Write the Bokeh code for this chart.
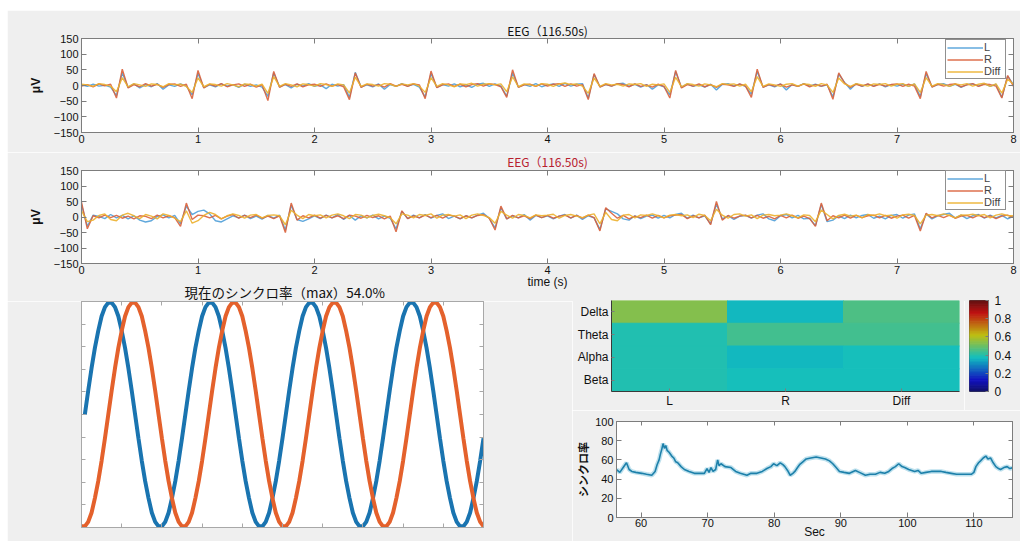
import numpy as np
from bokeh.plotting import figure
from bokeh.layouts import row, column
from bokeh.models import (Range1d, FixedTicker, LinearAxis, Legend, LegendItem, Title, Spacer,
                          FactorRange, ColumnDataSource, LinearColorMapper)
from bokeh.transform import transform
from bokeh.embed import file_html
from bokeh.resources import INLINE

NaN = float("nan")

# ---------------- data ----------------
eeg_title = "EEG（116.50s)"
eeg_ticks_x = [0, 1, 2, 3, 4, 5, 6, 7, 8]
eeg_ticks_y = [-150, -100, -50, 0, 50, 100, 150]
channel_names = ["L", "R", "Diff"]

# panel 1 (uV), sampled every 0.05 s over 0..8 s
L1 = [2, -3, 4, -2, 1, -5, -32, 40, -6, 5, -8, 3, -4, 6, -12, 2, -3, 5, -2, -30,
      38, -7, 2, -4, 5, -2, 3, -6, 4, -3, 2, -5, -35, 40, -4, 3, -8, 4, -2, 6,
      -3, 2, -10, 4, -2, 3, -38, 42, -5, 2, -4, 5, -12, 3, -3, 6, -2, 4, -5, -36,
      38, -6, 3, -2, 5, -4, 2, -6, 4, 7, -3, 5, -2, -34, 40, -5, 3, -3, 6, -4,
      2, 5, -3, 7, -2, 4, 6, -40, 35, -4, 3, -2, 5, 7, -3, 4, -5, 3, -12, 2,
      -4, -30, 44, -6, 5, -3, 2, -5, 4, -14, 3, 6, -2, 4, -3, -28, 45, -5, 2, -4,
      5, -14, 3, -3, 6, -2, 4, -3, 2, -36, 36, 10, -12, 6, -3, 4, -2, 5, -4, 3,
      -2, 4, -3, 5, -35, 38, -4, 3, 6, -3, 4, -6, 3, 5, -2, 6, -3, 4, -38, 30,
      2]
R1 = [-2, 3, -4, 5, -1, 4, -40, 52, -8, 3, -4, 6, -2, 4, -6, 3, 5, -3, 4, -42,
      48, -8, 4, -2, 6, -4, 2, 5, -3, 4, -5, 2, -48, 45, -6, 4, -3, 5, -4, 2,
      4, -3, 5, -2, 3, -4, -45, 40, -6, 4, -2, 3, -5, 6, -2, 4, -3, 5, 2, -42,
      46, -7, 2, 5, -3, 4, -4, 3, 6, -2, 5, 3, -4, -38, 50, -6, 2, 4, -3, 5,
      -2, 4, 6, -3, 5, -2, 3, -45, 38, -5, 4, -2, 6, 3, -4, 5, -3, 2, -5, 4,
      -3, -40, 48, -8, 3, -2, 5, -4, 3, -6, 4, 2, -3, 5, -2, -38, 52, -6, 3, -2,
      4, -5, 2, -3, 5, -4, 3, -2, 4, -44, 40, 8, -6, 4, -2, 5, -3, 4, -2, 3,
      5, -3, 4, -2, -42, 45, -5, 4, -2, 3, 5, -4, 2, 6, -3, 4, 3, -2, -40, 32,
      -3]
D1 = [4, 2, -3, 6, 3, -2, -20, 25, -4, 6, 2, -3, 5, 3, -4, 6, 2, 4, -3, -22,
      24, -4, 5, 3, -2, 6, 2, -4, 5, 3, -2, 4, -25, 28, -3, 6, 2, -4, 5, 3,
      -2, 6, 3, -3, 5, 2, -24, 26, -3, 5, 3, -2, 6, 4, -3, 5, 2, 6, -2, -22,
      25, -3, 6, 2, -4, 5, 3, 7, -2, 4, 6, 2, 5, -20, 28, -4, 5, 3, -2, 6,
      4, -3, 5, 8, 3, 5, -2, -25, 24, -3, 6, 2, 4, -2, 5, 3, 6, -3, 4, 2,
      5, -22, 26, -4, 6, 3, -2, 5, 2, -4, 6, 3, 5, -2, 4, -20, 28, -3, 5, 2,
      -3, 4, 6, -2, 5, 3, -3, 6, 2, -22, 24, 5, -3, 6, 2, -2, 5, 3, 6, -2,
      4, 6, -3, 5, -22, 25, -2, 6, 3, -3, 5, 2, 6, -2, 4, 7, -3, 5, -24, 20,
      4]

# panel 2 (uV)
L2 = [40, -30, 6, 2, -5, 8, -3, 5, -6, 4, -10, -16, -12, 2, 7, -3, 5, -22, 35, 8,
      18, 22, 10, -12, -16, -6, 4, -3, 6, -5, 3, -7, 5, -4, 6, -42, 38, -8, -14, -6,
      4, -5, 6, -3, 8, -8, 5, -10, 4, -3, 6, -6, 3, -4, -38, 18, -5, 6, -3, 8,
      -4, 5, 10, -5, 3, -6, 4, -3, 6, 12, -4, -35, 30, -6, 4, -3, 8, -10, 5, -2,
      4, -6, 3, 8, -4, 6, -8, 4, -3, -40, 26, 18, 10, -6, -10, 4, -5, 3, 6, -4,
      5, -3, 8, 12, -4, 6, -3, 4, -22, 42, -6, 4, -8, 3, 5, -4, 6, 10, -6, -12,
      4, 8, -3, 5, -6, -4, -28, 40, -15, -10, 4, -5, 6, -3, 5, 8, -4, 3, -6, 5,
      8, -4, 6, 10, -38, 10, -6, 4, 8, 12, -3, 6, -5, 4, 8, -4, 6, -3, 5, -6,
      3]
R2 = [48, -38, 4, -3, 6, -2, 5, -4, 3, -6, 4, 2, -5, 6, -3, 4, -2, -30, 45, -8,
      6, 4, -3, 5, -6, 3, 8, -4, 5, -2, 6, -4, 3, -5, 4, -50, 45, -10, 4, -3,
      6, -4, 5, -3, 4, -5, 6, 3, -4, 5, -2, 4, -6, 3, -48, 20, -5, 4, -3, 6,
      -2, 5, -4, 6, 3, -5, 4, -3, 5, 8, -4, -42, 35, -6, 5, -3, 4, -5, 6, -2,
      5, -4, 3, 6, -3, 5, -4, 6, -2, -45, 30, 12, -4, 5, -6, 3, -2, 6, -4, 5,
      -3, 4, 6, 8, -5, 4, -3, 6, -25, 50, -10, 5, -4, 3, 6, -3, 5, -4, 2, -6,
      5, -3, 6, -4, 3, -5, -30, 45, -12, 4, -3, 6, -4, 5, -2, 4, 6, -3, 5, -4,
      3, 6, -4, 5, -45, 12, -3, 5, -2, 6, -4, 3, 5, -3, 6, -2, 4, -5, 3, 6,
      -2]
D2 = [20, -15, -10, 5, 10, -8, -12, 6, 12, 4, -5, 8, 3, -6, 10, 5, -4, -15, 20, -20,
      -12, 5, 15, 8, -6, 4, 10, 5, -4, 6, 8, -3, 5, 7, 4, -25, 22, 6, -5, 8,
      4, 7, -3, 6, 10, 4, -5, 8, 6, -3, 5, 9, 4, -2, -22, 10, 6, -3, 8, 5,
      10, -4, 6, 8, 3, 7, -5, 6, 10, 5, -2, -20, 18, 6, -4, 8, 5, -3, 7, 4,
      6, 9, -4, 5, 8, 3, -2, 6, 10, -22, 15, -8, -12, 6, 8, -3, 7, 5, 10, 4,
      -3, 6, 8, 4, 7, -2, 9, 5, -12, 25, 6, -4, 8, 10, 3, 7, -5, 6, 8, 4,
      6, 10, 4, -3, 7, 5, -15, 22, 8, -6, 5, 9, 3, 6, -3, 8, 5, 10, 4, 6,
      -4, 7, 9, 5, -22, 6, 8, 4, 10, 5, -3, 7, 6, 9, 4, 8, -3, 6, 10, 5,
      4]

# synchrony waves (normalised amplitude), 121 samples across the window
sync_title = "現在のシンクロ率（max）54.0%"
wave_blue = [NaN,
    0.0, 0.21, 0.41, 0.59, 0.74, 0.87, 0.95, 0.99, 0.99, 0.95, 0.87, 0.74, 0.59, 0.41, 0.21,
    0.0, -0.21, -0.41, -0.59, -0.74, -0.87, -0.95, -0.99, -0.99, -0.95, -0.87, -0.74, -0.59, -0.41, -0.21,
    0.0, 0.21, 0.41, 0.59, 0.74, 0.87, 0.95, 0.99, 0.99, 0.95, 0.87, 0.74, 0.59, 0.41, 0.21,
    0.0, -0.21, -0.41, -0.59, -0.74, -0.87, -0.95, -0.99, -0.99, -0.95, -0.87, -0.74, -0.59, -0.41, -0.21,
    0.0, 0.21, 0.41, 0.59, 0.74, 0.87, 0.95, 0.99, 0.99, 0.95, 0.87, 0.74, 0.59, 0.41, 0.21,
    0.0, -0.21, -0.41, -0.59, -0.74, -0.87, -0.95, -0.99, -0.99, -0.95, -0.87, -0.74, -0.59, -0.41, -0.21,
    0.0, 0.21, 0.41, 0.59, 0.74, 0.87, 0.95, 0.99, 0.99, 0.95, 0.87, 0.74, 0.59, 0.41, 0.21,
    0.0, -0.21, -0.41, -0.59, -0.74, -0.87, -0.95, -0.99, -0.99, -0.95, -0.87, -0.74, -0.59, -0.41, -0.21]
wave_orange = [-0.99, -0.99, -0.95, -0.87, -0.74, -0.59, -0.41, -0.21,
    0.0, 0.21, 0.41, 0.59, 0.74, 0.87, 0.95, 0.99, 0.99, 0.95, 0.87, 0.74, 0.59, 0.41, 0.21,
    0.0, -0.21, -0.41, -0.59, -0.74, -0.87, -0.95, -0.99, -0.99, -0.95, -0.87, -0.74, -0.59, -0.41, -0.21,
    0.0, 0.21, 0.41, 0.59, 0.74, 0.87, 0.95, 0.99, 0.99, 0.95, 0.87, 0.74, 0.59, 0.41, 0.21,
    0.0, -0.21, -0.41, -0.59, -0.74, -0.87, -0.95, -0.99, -0.99, -0.95, -0.87, -0.74, -0.59, -0.41, -0.21,
    0.0, 0.21, 0.41, 0.59, 0.74, 0.87, 0.95, 0.99, 0.99, 0.95, 0.87, 0.74, 0.59, 0.41, 0.21,
    0.0, -0.21, -0.41, -0.59, -0.74, -0.87, -0.95, -0.99, -0.99, -0.95, -0.87, -0.74, -0.59, -0.41, -0.21,
    0.0, 0.21, 0.41, 0.59, 0.74, 0.87, 0.95, 0.99, 0.99, 0.95, 0.87, 0.74, 0.59, 0.41, 0.21,
    0.0, -0.21, -0.41, -0.59, -0.74, -0.87, -0.95, -0.99]

# band x channel synchrony heatmap
bands = ["Delta", "Theta", "Alpha", "Beta"]
heat_vals = [[0.545, 0.36, 0.46],
             [0.40, 0.44, 0.44],
             [0.40, 0.37, 0.39],
             [0.40, 0.39, 0.39]]
cbar_ticks = [0, 0.2, 0.4, 0.6, 0.8, 1]
cbar_labels = ["0", "0.2", "0.4", "0.6", "0.8", "1"]

# synchrony rate history
sync_t = [56.3, 56.8, 57.3, 57.8, 58.2, 58.6, 59.2, 60.1, 60.8, 61.6,
          62.1, 62.4, 62.7, 62.9, 63.1, 63.3, 63.5, 63.7, 63.9, 64.2,
          64.6, 64.9, 65.2, 65.5, 66.0, 66.5, 67.2, 68.0, 68.8, 69.5,
          69.9, 70.2, 70.5, 70.8, 71.2, 71.5, 71.7, 72.0, 72.6, 73.5,
          74.2, 74.9, 75.9, 76.5, 77.4, 78.2, 78.9, 79.5, 79.9, 80.4,
          80.9, 81.3, 81.6, 82.0, 82.4, 82.8, 83.1, 83.5, 83.8, 84.3,
          84.8, 85.5, 86.3, 87.0, 87.7, 88.3, 88.8, 89.3, 89.8, 90.5,
          91.3, 92.2, 92.8, 93.7, 94.4, 95.2, 95.9, 96.6, 97.2, 97.7,
          98.2, 98.7, 99.2, 99.6, 100.2, 101.1, 101.6, 102.1, 102.8, 103.6,
          104.3, 105.1, 105.8, 106.6, 107.4, 108.1, 108.9, 109.6, 110.0, 110.3,
          110.7, 111.0, 111.4, 111.8, 112.1, 112.5, 112.9, 113.3, 113.7, 114.0,
          114.5, 115.0, 115.4, 115.9]
sync_v = [50, 47, 52, 57, 50, 48, 47, 46, 45, 44,
          48, 55, 60, 66, 71, 77, 72, 75, 70, 68,
          64, 62, 58, 57, 53, 50, 48, 46, 46, 46,
          51, 47, 52, 48, 50, 60, 54, 56, 53, 52,
          48, 46, 44, 46, 46, 48, 51, 53, 56, 54,
          57, 55, 53, 49, 44, 46, 48, 52, 55, 58,
          61, 62, 63, 62, 61, 59, 56, 52, 48, 47,
          46, 49, 47, 44, 45, 45, 47, 46, 48, 51,
          53, 56, 53, 52, 50, 48, 49, 46, 47, 48,
          48, 48, 47, 46, 45, 45, 45, 45, 47, 53,
          57, 59, 62, 64, 61, 62, 57, 53, 51, 50,
          52, 53, 51, 52]
sync_xticks = [60, 70, 80, 90, 100, 110]
sync_yticks = [0, 20, 40, 60, 80, 100]

# ---------------- style ----------------
BG = "#efefef"
AX = "#7d7d7d"
TXT = "#111111"
LAT = "Liberation Sans"
CJK = "Noto Sans CJK JP"
C_L, C_R, C_D = "#4f9fd8", "#d9603b", "#ecb02e"


def style_axis(ax, show=True, size="11px", tick_in=5, standoff=3):
    ax.axis_line_color = AX
    ax.major_tick_line_color = AX
    ax.minor_tick_line_color = None
    ax.major_tick_in = tick_in
    ax.major_tick_out = 0
    ax.major_label_text_font = LAT
    ax.major_label_text_color = TXT
    if show:
        ax.major_label_text_font_size = size
        ax.major_label_standoff = standoff
    else:
        ax.major_label_text_font_size = "1px"
        ax.major_label_text_color = None
        ax.major_label_standoff = 0
    ax.axis_label_text_font = LAT
    ax.axis_label_text_font_size = "12px"
    ax.axis_label_text_font_style = "normal"
    ax.axis_label_text_color = TXT


def add_mirror(p, xt, yt, tick_in=5, color=AX):
    top = LinearAxis(ticker=FixedTicker(ticks=xt))
    style_axis(top, show=False, tick_in=tick_in)
    right = LinearAxis(ticker=FixedTicker(ticks=yt))
    style_axis(right, show=False, tick_in=tick_in)
    for a in (top, right):
        a.axis_line_color = color
        a.major_tick_line_color = color
    p.add_layout(top, "above")
    p.add_layout(right, "right")


def eeg_panel(height, top_b, bot_b, Ls, Rs, Ds, title_color, title_standoff, leg_y):
    p = figure(width=1013, height=height, x_range=Range1d(0, 8), y_range=Range1d(-150, 150),
               output_backend="svg", toolbar_location=None,
               min_border_left=74, min_border_right=7, min_border_top=top_b, min_border_bottom=bot_b,
               background_fill_color="white", border_fill_color=BG, outline_line_color=AX)
    p.grid.visible = False
    xa, ya = p.below[0], p.left[0]
    xa.ticker = FixedTicker(ticks=eeg_ticks_x)
    ya.ticker = FixedTicker(ticks=eeg_ticks_y)
    style_axis(xa, standoff=2)
    style_axis(ya)
    ya.major_label_overrides = {-150: "\u2212150", -100: "\u2212100", -50: "\u221250"}
    ya.axis_label = "μV"
    ya.axis_label_text_font_style = "bold"
    ya.axis_label_standoff = 8
    add_mirror(p, eeg_ticks_x, eeg_ticks_y)
    p.add_layout(Title(text=eeg_title, align="center", vertical_align="middle",
                       standoff=title_standoff, text_font=CJK, text_font_size="12px",
                       text_font_style="normal", text_color=title_color), "above")
    rl = p.line(np.linspace(0, 8, len(Ls)), Ls, line_color=C_L, line_width=1.4, line_alpha=0.9)
    rr = p.line(np.linspace(0, 8, len(Rs)), Rs, line_color=C_R, line_width=1.4, line_alpha=0.9)
    rd = p.line(np.linspace(0, 8, len(Ds)), Ds, line_color=C_D, line_width=1.4, line_alpha=0.9)
    leg = Legend(items=[LegendItem(label=channel_names[0], renderers=[rl]),
                        LegendItem(label=channel_names[1], renderers=[rr]),
                        LegendItem(label=channel_names[2], renderers=[rd])],
                 location=(864, leg_y))
    leg.label_text_font = LAT
    leg.label_text_font_size = "11px"
    leg.label_height = 11
    leg.glyph_height = 11
    leg.glyph_width = 36
    leg.spacing = 0
    leg.padding = 1
    leg.margin = 0
    leg.label_standoff = 1
    leg.border_line_color = "#222222"
    leg.border_line_width = 1
    leg.background_fill_color = "white"
    leg.background_fill_alpha = 1
    p.add_layout(leg)
    return p


p1 = eeg_panel(142, 28, 20, L1, R1, D1, TXT, -3, 53)
p2 = eeg_panel(149, 17, 38, L2, R2, D2, "#b8202e", -1, 53)
p2.below[0].axis_label = "time (s)"
p2.below[0].axis_label_standoff = -2
# the synchrony-wave title sits in the strip under the EEG time axis
p2.add_layout(Title(text=sync_title, align="left", offset=103, vertical_align="middle",
                    standoff=-32, text_font=CJK, text_font_size="13.5px",
                    text_font_style="normal", text_color=TXT), "below")

# ---- synchrony waves ----
WAX = "#a8a8a8"
ps = figure(width=565, height=240, x_range=Range1d(0, 1), y_range=Range1d(-1, 1),
            output_backend="svg", toolbar_location=None,
            min_border_left=74, min_border_right=89, min_border_top=0, min_border_bottom=14,
            background_fill_color="white", border_fill_color=BG, outline_line_color=WAX)
ps.grid.visible = False
wx = [0.1 * i for i in range(11)]
wy = [-1 + 0.2 * i for i in range(11)]
ps.below[0].ticker = FixedTicker(ticks=wx)
ps.left[0].ticker = FixedTicker(ticks=wy)
style_axis(ps.below[0], show=False, tick_in=4)
style_axis(ps.left[0], show=False, tick_in=4)
for a in (ps.below[0], ps.left[0]):
    a.axis_line_color = WAX
    a.major_tick_line_color = WAX
add_mirror(ps, wx, wy, tick_in=4, color=WAX)
ps.line(np.linspace(0, 1, len(wave_blue)), wave_blue, line_color="#1a74b0", line_width=4)
ps.line(np.linspace(0, 1, len(wave_orange)), wave_orange, line_color="#e4612c", line_width=4)

# ---- heatmap ----
def jet_muted(n=64):
    cols = []
    for i in range(n):
        v = i / (n - 1)
        r = min(max(min(4 * v - 1.5, -4 * v + 4.5), 0), 1)
        g = min(max(min(4 * v - 0.5, -4 * v + 3.5), 0), 1)
        b = min(max(min(4 * v + 0.5, -4 * v + 2.5), 0), 1)
        cols.append("#%02x%02x%02x" % tuple(int(round(255 * (0.07 + 0.68 * c))) for c in (r, g, b)))
    return cols

PAL = jet_muted()
mapper = LinearColorMapper(palette=PAL, low=0, high=1)
hx, hy, hv = [], [], []
for b, rowv in zip(bands, heat_vals):
    for c, v in zip(channel_names, rowv):
        hx.append(c)
        hy.append(b)
        hv.append(v)
hsrc = ColumnDataSource(dict(ch=hx, band=hy, val=hv))

ph = figure(width=392, height=124, x_range=FactorRange(*channel_names),
            y_range=FactorRange(*bands[::-1]),
            output_backend="svg", toolbar_location=None,
            min_border_left=39, min_border_right=5, min_border_top=14, min_border_bottom=16,
            background_fill_color="white", border_fill_color=BG, outline_line_color=None)
ph.grid.visible = False
ph.rect(x="ch", y="band", width=1, height=1, source=hsrc,
        fill_color=transform("val", mapper), line_color=transform("val", mapper), line_width=1)
for a in (ph.below[0], ph.left[0]):
    style_axis(a, size="12px", tick_in=3, standoff=2)
    a.axis_line_color = "#3a3a3a"
ph.left[0].major_label_standoff = 3

pc = figure(width=56, height=124, x_range=Range1d(0, 1), y_range=Range1d(0, 1),
            output_backend="svg", toolbar_location=None, y_axis_location="right",
            min_border_left=5, min_border_right=32, min_border_top=14, min_border_bottom=16,
            background_fill_color="white", border_fill_color=BG, outline_line_color="#555555")
pc.grid.visible = False
pc.xaxis.visible = False
n = len(PAL)
pc.quad(left=0, right=1, bottom=[i / n for i in range(n)], top=[(i + 1) / n for i in range(n)],
        fill_color=PAL, line_color=PAL, line_width=1)
ca = pc.right[0]
ca.ticker = FixedTicker(ticks=cbar_ticks)
style_axis(ca, size="12px", tick_in=3, standoff=6)
ca.major_label_overrides = {t: s for t, s in zip(cbar_ticks, cbar_labels)}

# ---- synchrony rate history ----
pr = figure(width=448, height=131, x_range=Range1d(56.3, 115.8), y_range=Range1d(0, 100),
            output_backend="svg", toolbar_location=None,
            min_border_left=39, min_border_right=8, min_border_top=11, min_border_bottom=23,
            background_fill_color="white", border_fill_color=BG, outline_line_color=AX)
pr.grid.visible = False
pr.below[0].ticker = FixedTicker(ticks=sync_xticks)
pr.left[0].ticker = FixedTicker(ticks=sync_yticks)
style_axis(pr.below[0], standoff=1)
style_axis(pr.left[0], standoff=3)
pr.below[0].axis_label = "Sec"
pr.below[0].axis_label_standoff = -5
pr.left[0].axis_label = "シンクロ率"
pr.left[0].axis_label_text_font = CJK
pr.left[0].axis_label_text_font_size = "11px"
pr.left[0].axis_label_text_font_style = "bold"
pr.left[0].axis_label_standoff = 1
add_mirror(pr, sync_xticks, sync_yticks, tick_in=4)
pr.line(sync_t, sync_v, line_color="#6cbad8", line_width=4.5, line_alpha=0.45)
pr.line(sync_t, sync_v, line_color="#1d80aa", line_width=1.6)

# the right-hand column starts a little higher, next to the wave-panel title strip
right_col = column(row(ph, pc), pr, margin=(-15, 0, 0, 0))
content = column(p1, p2, row(ps, right_col))
layout = column(Spacer(width=1020, height=10), row(Spacer(width=7, height=531), content))

with open("out.html", "w", encoding="utf-8") as f:
    f.write(file_html(layout, INLINE))
